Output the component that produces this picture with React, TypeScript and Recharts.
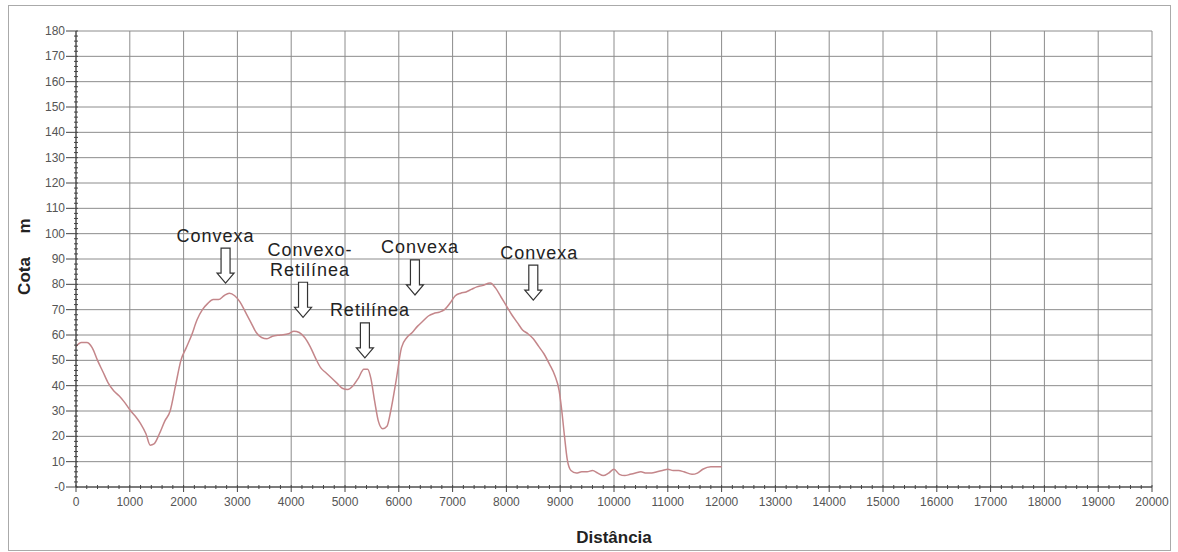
import { LineChart, Line, XAxis, YAxis, CartesianGrid, ReferenceDot } from 'recharts'

const FONT = '"Liberation Sans", Arial, sans-serif'

// perfil topográfico: distância (m) x cota (m)
const distancia = [
  0, 100, 200, 300, 400, 500, 600, 700, 800, 900, 1000, 1100, 1200, 1300, 1380, 1450, 1550, 1650, 1750, 1850,
  1950, 2050, 2150, 2250, 2350, 2450, 2550, 2650, 2750, 2850, 2950, 3050, 3150, 3250, 3350, 3450, 3550, 3650,
  3800, 3950, 4050, 4150, 4250, 4350, 4450, 4550, 4650, 4750, 4850, 4950, 5050, 5150, 5250, 5350, 5420, 5480,
  5550, 5620, 5700, 5780, 5850, 5950, 6050, 6150, 6250, 6350, 6450, 6550, 6650, 6750, 6850, 6950, 7050, 7150,
  7250, 7350, 7450, 7550, 7700, 7800, 7900, 8000, 8100, 8200, 8300, 8400, 8500, 8600, 8700, 8800, 8900, 8980,
  9030, 9080, 9130, 9200, 9300, 9400, 9500, 9600, 9700, 9800, 9900, 10000, 10100, 10200, 10300, 10400, 10500,
  10600, 10700, 10800, 10900, 11000, 11100, 11200, 11300, 11450, 11550, 11650, 11800, 11900, 12000,
]
const cota = [
  55.5, 57, 57, 55, 50, 45.5, 41, 38, 36, 33.5, 30.5, 28, 25, 21, 16.5, 17, 21, 26, 30, 40,
  50, 55, 60, 66, 70, 72.5, 74, 74, 75.5, 76.5, 75.5, 73, 69, 65, 61, 59, 58.5, 59.5,
  60, 60.5, 61.5, 61, 59, 55.5, 51, 47, 45, 43, 41, 39, 38.5, 40, 43, 46.5, 46.5, 43,
  34, 26, 23, 24, 30, 42, 55, 59, 61, 63.5, 65.5, 67.5, 68.5, 69, 70, 72.5, 75.5, 76.5,
  77, 78, 79, 79.5, 80.5, 78.5, 75, 71.5, 68, 65, 62, 60.5, 58.5, 55.5, 52.5, 48.5, 44, 38,
  30, 20, 11, 6.5, 5.5, 6, 6, 6.5, 5.5, 4.5, 5.5, 7, 5, 4.5, 5, 5.5, 6,
  5.5, 5.5, 6, 6.5, 7, 6.5, 6.5, 6, 5, 5.5, 7, 8, 8, 8,
]

const xMajor = Array.from({ length: 21 }, (_, i) => i * 1000)
const xTicks = Array.from({ length: 101 }, (_, i) => i * 200)
const yMajor = Array.from({ length: 19 }, (_, i) => i * 10)
const yTicks = Array.from({ length: 91 }, (_, i) => i * 2)

const annotations = [
  { x: 2780, y: 80.5, lines: ['Convexa'], dx: -10 },
  { x: 4220, y: 67, lines: ['Convexo-', 'Retilínea'], dx: 7 },
  { x: 5370, y: 51, lines: ['Retilínea'], dx: 5 },
  { x: 6300, y: 75.8, lines: ['Convexa'], dx: 5 },
  { x: 8500, y: 73.8, lines: ['Convexa'], dx: 6 },
]

const data = distancia.map((d, i) => ({ d, cota: cota[i] }))

function XTick(props: any) {
  const { x, y, payload } = props
  const v = payload.value
  const major = v % 1000 === 0
  return (
    <g>
      <line x1={x} x2={x} y1={y - 2} y2={major ? y + 5 : y + 2} stroke="#444" />
      {major && (
        <text x={x} y={y + 19} textAnchor="middle" fontSize={12} fill="#555" fontFamily={FONT}>
          {v}
        </text>
      )}
    </g>
  )
}

function YTick(props: any) {
  const { x, y, payload } = props
  const v = payload.value
  const major = v % 10 === 0
  return (
    <g>
      <line x1={major ? x - 10 : x - 2} x2={x + 2} y1={y} y2={y} stroke="#444" />
      {major && (
        <text x={x - 11} y={y + 4} textAnchor="end" fontSize={12} fill="#555" fontFamily={FONT}>
          {v === 0 ? '-0' : v}
        </text>
      )}
    </g>
  )
}

function Arrow({ cx, cy, lines, dx }: any) {
  const top = cy - 35
  const path = `M${cx},${cy} L${cx - 8.5},${cy - 10} L${cx - 4.5},${cy - 10} L${cx - 4.5},${top} L${cx + 4.5},${top} L${cx + 4.5},${cy - 10} L${cx + 8.5},${cy - 10} Z`
  return (
    <g>
      <path d={path} fill="#fff" stroke="#333" strokeWidth={1.2} />
      {lines.map((t: string, i: number) => (
        <text
          key={t}
          x={cx + dx}
          y={top - 6.5 - (lines.length - 1 - i) * 20}
          textAnchor="middle"
          fontSize={18}
          letterSpacing={1}
          fill="#222"
          fontFamily={FONT}
        >
          {t}
        </text>
      ))}
    </g>
  )
}

export default function App() {
  return (
    <div style={{ position: 'absolute', left: 0, top: 0, width: 1178, height: 552, background: '#fff', fontFamily: FONT }}>
      <div style={{ position: 'absolute', left: 8, top: 5, width: 1161, height: 544, border: '1px solid #aaa' }} />
      <LineChart width={1178} height={552} data={data} margin={{ top: 31, right: 26, bottom: 35, left: 16 }}>
        <CartesianGrid
          stroke="#8c8c8c"
          horizontalValues={yMajor}
          verticalValues={xMajor}
        />
        <XAxis
          dataKey="d"
          type="number"
          domain={[0, 20000]}
          ticks={xTicks}
          interval={0}
          height={30}
          tickSize={0}
          tickMargin={0}
          tickLine={false}
          tick={<XTick />}
          axisLine={{ stroke: '#333' }}
        />
        <YAxis
          type="number"
          domain={[0, 180]}
          ticks={yTicks}
          interval={0}
          width={60}
          tickSize={0}
          tickMargin={0}
          tickLine={false}
          tick={<YTick />}
          axisLine={{ stroke: '#333' }}
        />
        <Line
          type="monotone"
          dataKey="cota"
          stroke="#c4868a"
          strokeWidth={1.5}
          dot={false}
          isAnimationActive={false}
        />
        {annotations.map((a) => (
          <ReferenceDot
            key={a.x}
            x={a.x}
            y={a.y}
            r={0}
            shape={(p: any) => <Arrow cx={p.cx} cy={p.cy} lines={a.lines} dx={a.dx} />}
          />
        ))}
      </LineChart>
      <div style={{ position: 'absolute', left: 514, top: 528, width: 200, textAlign: 'center', fontSize: 17, fontWeight: 'bold', lineHeight: '20px', color: '#222' }}>
        Distância
      </div>
      <div style={{ position: 'absolute', left: -15, top: 266, width: 80, height: 20, lineHeight: '20px', textAlign: 'center', fontSize: 17, fontWeight: 'bold', color: '#222', transform: 'rotate(-90deg)' }}>
        Cota
      </div>
      <div style={{ position: 'absolute', left: -15, top: 216, width: 80, height: 20, lineHeight: '20px', textAlign: 'center', fontSize: 17, fontWeight: 'bold', color: '#222', transform: 'rotate(-90deg)' }}>
        m
      </div>
    </div>
  )
}
